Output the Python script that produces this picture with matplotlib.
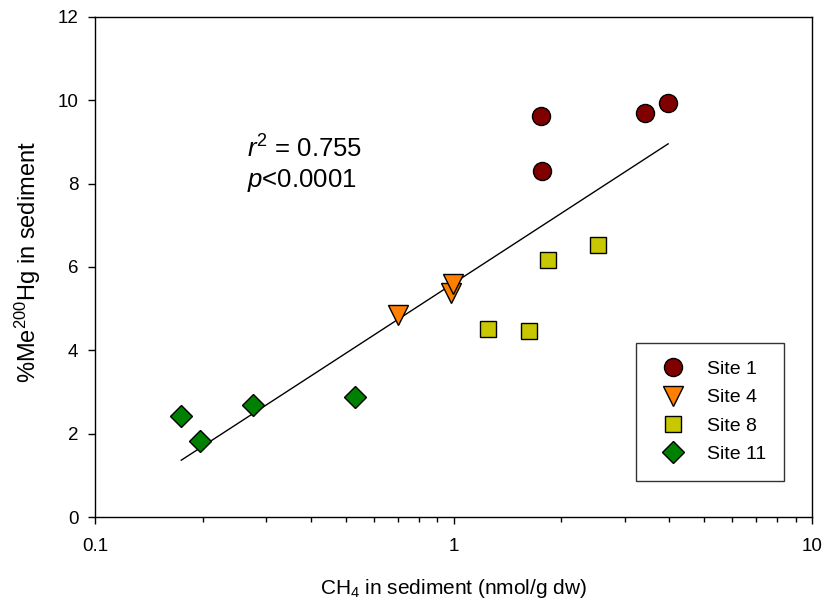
import numpy as np
import matplotlib
matplotlib.use("Agg")
import matplotlib.pyplot as plt
from matplotlib.ticker import LogLocator, FixedLocator, FixedFormatter, NullFormatter

plt.rcParams['font.family'] = ['Liberation Sans', 'DejaVu Sans']
plt.rcParams['mathtext.fontset'] = 'custom'
plt.rcParams['mathtext.rm'] = 'Liberation Sans'
plt.rcParams['mathtext.it'] = 'Liberation Sans:italic'

# Data (CH4 nmol/g dw, %Me200Hg)
site1_x = [1.75, 1.76, 3.42, 3.97]
site1_y = [9.62, 8.30, 9.70, 9.94]
site4_x = [0.700, 0.984, 0.997]
site4_y = [4.85, 5.38, 5.59]
site8_x = [1.248, 1.625, 1.835, 2.53]
site8_y = [4.51, 4.46, 6.17, 6.53]
site11_x = [0.174, 0.196, 0.276, 0.531]
site11_y = [2.42, 1.82, 2.69, 2.88]

labels = ["Site 1", "Site 4", "Site 8", "Site 11"]
x_ticks = [0.1, 1, 10]
x_ticklabels = ["0.1", "1", "10"]
y_ticks = [0, 2, 4, 6, 8, 10, 12]

fig = plt.figure(figsize=(8.25, 6.04), dpi=100)
ax = fig.add_axes([0.1152, 0.1440, 0.869, 0.8279])

# regression line on log10(x)
all_x = np.array(site1_x + site4_x + site8_x + site11_x)
all_y = np.array(site1_y + site4_y + site8_y + site11_y)
b, a = np.polyfit(np.log10(all_x), all_y, 1)
xl = np.array([all_x.min(), all_x.max()])
ax.plot(xl, a + b * np.log10(xl), color='black', lw=1.0, zorder=2)

ax.plot(site1_x, site1_y, 'o', ms=13, mfc='#800000', mec='black', mew=1.0, ls='none', label=labels[0], zorder=3)
ax.plot(site4_x, site4_y, 'v', ms=14, mfc='#ff8000', mec='black', mew=1.0, ls='none', label=labels[1], zorder=3)
ax.plot(site8_x, site8_y, 's', ms=11.5, mfc='#c8c800', mec='black', mew=1.0, ls='none', label=labels[2], zorder=3)
ax.plot(site11_x, site11_y, 'D', ms=11, mfc='#008000', mec='black', mew=1.0, ls='none', label=labels[3], zorder=3)

ax.set_xscale('log')
ax.set_xlim(0.1, 10)
ax.set_ylim(0, 12)
ax.xaxis.set_major_locator(FixedLocator(x_ticks))
ax.xaxis.set_major_formatter(FixedFormatter(x_ticklabels))
ax.xaxis.set_minor_locator(LogLocator(base=10, subs=np.arange(2, 10)))
ax.xaxis.set_minor_formatter(NullFormatter())
ax.set_yticks(y_ticks)
ax.tick_params(axis='both', which='major', direction='out', width=1, labelsize=13.5)
ax.tick_params(axis='x', which='major', length=5, pad=10)
ax.tick_params(axis='y', which='major', length=5, pad=7)
ax.tick_params(axis='x', which='minor', direction='out', length=3.5, width=1)
ax.tick_params(top=False, right=False)
for s in ax.spines.values():
    s.set_linewidth(1.0)

ax.set_xlabel('CH$_4$ in sediment (nmol/g dw)', fontsize=15, labelpad=16)
ax.set_ylabel('%Me$^{200}$Hg in sediment', fontsize=17)
ax.yaxis.set_label_coords(-0.072, 0.51)

ax.text(0.212, 0.718, '$r^2$ = 0.755', transform=ax.transAxes, fontsize=18.5, ha='left', va='baseline')
ax.text(0.212, 0.66, '$p$<0.0001', transform=ax.transAxes, fontsize=18.5, ha='left', va='baseline')

leg = ax.legend(loc='upper left', bbox_to_anchor=(0.7545, 0.348), fontsize=14, frameon=True,
                fancybox=False, edgecolor='black', borderpad=0.9, labelspacing=0.55,
                handletextpad=0.75, borderaxespad=0)
leg.get_frame().set_linewidth(1.0)

fig.savefig('out.png', dpi=100)
